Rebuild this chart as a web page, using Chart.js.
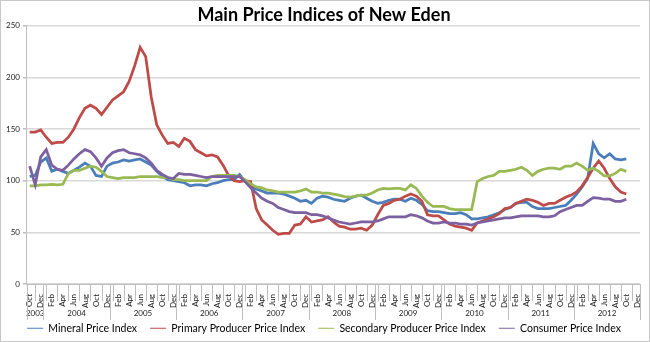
<!DOCTYPE html>
<html>
<head>
<meta charset="utf-8">
<script src="https://cdn.jsdelivr.net/npm/chart.js@4.4.1/dist/chart.umd.min.js"></script>
<style>
  body { margin: 0; background: #fff; }
  #wrap { width: 650px; height: 342px; box-sizing: border-box; border: 1px solid #c8c8c8; }
  canvas { display: block; }
</style>
</head>
<body>
<div id="wrap"><canvas id="chart" width="648" height="340"></canvas></div>
<script>
// month names and years for the category axis (Oct 2003 - Dec 2012)
const monthNames = ['Jan', 'Feb', 'Mar', 'Apr', 'May', 'Jun', 'Jul', 'Aug', 'Sep', 'Oct', 'Nov', 'Dec'];
const years = ['2003', '2004', '2005', '2006', '2007', '2008', '2009', '2010', '2011', '2012'];
const firstMonth = 9; // Oct

// index values, Oct 2003 - Oct 2012
const mineral = [104, 105, 118, 122, 109, 111, 109, 107, 110, 113, 117, 114, 105, 104, 114, 117, 118, 120, 119, 120, 121, 118,
  115, 109, 104, 101, 100, 99, 98, 95, 96, 96, 95, 97, 98, 100, 101, 101, 106, 99, 94, 92, 90, 88,
  88, 88, 87, 85, 83, 80, 81, 78, 83, 85, 84, 82, 81, 80, 83, 85, 86, 83, 80, 78, 79, 81,
  82, 82, 80, 83, 81, 77, 71, 70, 70, 69, 68, 68, 69, 67, 63, 63, 64, 65, 67, 69, 72, 74,
  78, 79, 79, 75, 73, 73, 73, 74, 75, 76, 81, 87, 94, 102, 136, 126, 122, 126, 121, 120, 121];

const primary = [147, 147, 149, 142, 136, 137, 137, 142, 150, 161, 170, 173, 170, 164, 171, 178, 182, 186, 196, 211, 229, 220,
  181, 154, 144, 136, 137, 133, 141, 138, 130, 127, 124, 125, 123, 115, 105, 100, 99, 100, 99, 73, 62, 57,
  52, 48, 49, 49, 57, 58, 65, 60, 61, 62, 65, 60, 56, 55, 53, 53, 54, 52, 57, 67, 76, 78,
  81, 82, 85, 87, 85, 80, 67, 66, 66, 62, 58, 56, 55, 54, 52, 59, 61, 63, 65, 68, 73, 74,
  78, 80, 82, 81, 79, 76, 78, 78, 81, 84, 86, 89, 95, 103, 112, 119, 112, 102, 94, 89, 87];

const secondary = [95, 95, 96, 96, 96.5, 96, 96.5, 107, 110, 110, 112, 114, 113, 109, 104, 103, 102, 103, 103, 103, 104, 104,
  104, 104, 103, 103, 101, 101, 100, 100, 100, 100, 100, 104, 105, 105, 105, 105, 104, 101, 97, 94, 93, 91,
  90, 89, 89, 89, 89, 90, 92, 89, 89, 88, 88, 87, 86, 84.5, 84, 85, 86, 86, 88, 91, 92.5, 92,
  92.5, 92.5, 91, 96, 92.5, 85, 79, 75, 75, 75, 73, 72, 72, 72, 72, 99, 102, 104, 105, 109, 109, 110,
  111, 113, 110, 105, 109, 111, 112, 112, 111, 114, 114, 117, 114, 110, 112, 109, 104.5, 104.5, 107, 111, 109];

const consumer = [114, 96, 123, 130, 115, 111, 110, 115, 121, 126, 130, 128, 122, 114, 122, 127, 129, 130, 127, 126, 125, 122,
  117, 110, 106, 103, 102, 107, 106, 106, 105, 104, 103, 104, 104, 104, 104, 104, 104, 99, 93, 88, 83, 80,
  78, 74, 72, 70, 69, 69, 69, 67, 67, 66, 64, 62, 60, 59, 58, 59, 60, 60, 60, 61, 63, 65,
  65, 65, 65, 67, 66, 64, 61, 59, 59, 60, 59, 59, 58, 58, 57, 59, 60, 61, 62, 63, 64, 64,
  65, 66, 66, 66, 66, 65, 65, 66, 70, 72, 74, 76, 76, 80, 83.5, 83, 82, 82, 80, 80, 82];

// build category list: one entry per month
const labels = [];
const labelYears = [];
let m = firstMonth;
for (const y of years) {
  while (m < 12) {
    labels.push(monthNames[m]);
    labelYears.push(y);
    m++;
  }
  m = 0;
}

const axisGrey = '#bfbfbf';
const gridGrey = '#d9d9d9';
const tickFont = { family: 'Lato', size: 8 };

// draws the small separators between month labels and the year row
const yearRow = {
  id: 'yearRow',
  afterDraw(chart) {
    const xs = chart.scales.x;
    const ctx = chart.ctx;
    const top = xs.top;
    const half = (xs.getPixelForValue(1) - xs.getPixelForValue(0)) / 2;
    ctx.save();
    ctx.strokeStyle = axisGrey;
    ctx.lineWidth = 1;
    ctx.beginPath();
    for (let i = 1; i < labels.length; i += 2) {
      const px = Math.round(xs.getPixelForValue(i)) + 0.5;
      ctx.moveTo(px, top);
      ctx.lineTo(px, top + 17);
    }
    ctx.stroke();

    ctx.fillStyle = '#222';
    ctx.font = '8px Lato';
    ctx.textAlign = 'center';
    ctx.textBaseline = 'middle';
    let start = 0;
    for (let i = 0; i <= labels.length; i++) {
      if (i === labels.length || (i > 0 && labelYears[i] !== labelYears[i - 1])) {
        const left = xs.getPixelForValue(start) - half;
        const right = xs.getPixelForValue(i - 1) + half;
        ctx.fillText(labelYears[start], (left + right) / 2, top + 29);
        ctx.beginPath();
        const lx = Math.round(left) + 0.5;
        ctx.moveTo(lx, top);
        ctx.lineTo(lx, top + 36);
        if (i === labels.length) {
          const rx = Math.round(right) + 0.5;
          ctx.moveTo(rx, top);
          ctx.lineTo(rx, top + 36);
        }
        ctx.stroke();
        start = i;
      }
    }
    ctx.restore();
  }
};

const ctx = document.getElementById('chart').getContext('2d');
new Chart(ctx, {
  type: 'line',
  data: {
    labels: labels,
    datasets: [
      { label: 'Mineral Price Index', data: mineral, borderColor: '#4a7ebb', backgroundColor: '#4a7ebb', order: 3 },
      { label: 'Primary Producer Price Index', data: primary, borderColor: '#be4b48', backgroundColor: '#be4b48', order: 2 },
      { label: 'Secondary Producer Price Index', data: secondary, borderColor: '#98b954', backgroundColor: '#98b954', order: 1 },
      { label: 'Consumer Price Index', data: consumer, borderColor: '#7d60a0', backgroundColor: '#7d60a0', order: 0 }
    ]
  },
  options: {
    responsive: false,
    animation: false,
    layout: { padding: { left: 2, right: 4, top: 0, bottom: 0 } },
    elements: {
      point: { radius: 0 },
      line: { borderWidth: 2.75, tension: 0 }
    },
    plugins: {
      title: {
        display: true,
        text: 'Main Price Indices of New Eden',
        color: '#000',
        font: { family: 'Lato', size: 18, weight: 'bold' },
        padding: { top: 3, bottom: 0 }
      },
      legend: {
        position: 'bottom',
        maxHeight: 31,
        labels: {
          usePointStyle: true,
          pointStyle: 'line',
          pointStyleWidth: 16,
          padding: 13,
          color: '#000',
          font: { family: 'Lato', size: 10.5 },
          sort: (a, b) => a.datasetIndex - b.datasetIndex
        }
      },
      tooltip: { enabled: false }
    },
    scales: {
      x: {
        offset: true,
        grid: { display: false },
        border: { display: true, color: axisGrey },
        ticks: {
          autoSkip: false,
          maxRotation: 90,
          minRotation: 90,
          padding: 2,
          color: '#222',
          font: tickFont,
          callback: (val, idx) => (idx % 2 === 0 ? labels[idx] : '')
        },
        afterFit: (scale) => { scale.height = 26; }
      },
      y: {
        min: 0,
        max: 250,
        ticks: { stepSize: 50, color: '#222', font: tickFont, padding: 3 },
        grid: { color: gridGrey, lineWidth: 1.5, tickLength: 4, tickColor: axisGrey },
        border: { display: true, color: axisGrey }
      }
    }
  },
  plugins: [yearRow]
});
</script>
</body>
</html>
